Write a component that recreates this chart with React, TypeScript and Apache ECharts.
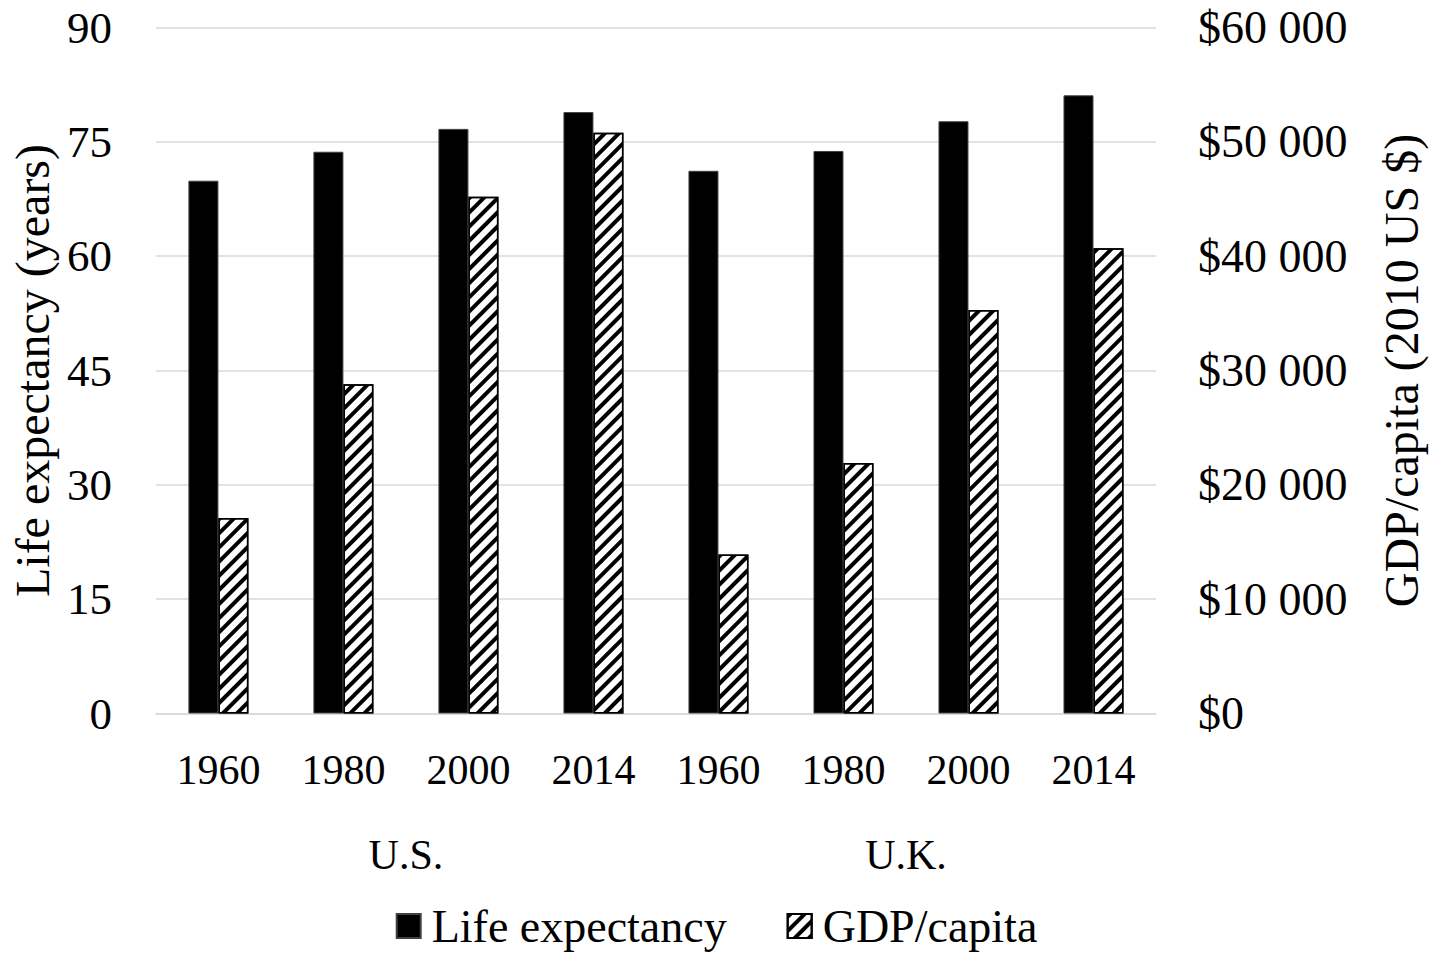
import React, { useEffect, useRef } from "react";
import * as echarts from "echarts";

const years = ["1960", "1980", "2000", "2014", "1960", "1980", "2000", "2014"];
const countries = ["U.S.", "U.K."];
const lifeExpectancy = [69.9, 73.7, 76.7, 78.9, 71.2, 73.8, 77.7, 81.1];
const gdpPerCapita = [17100, 28800, 45200, 50800, 13900, 21900, 35300, 40700];
const leftTicks = { min: 0, max: 90, interval: 15 };
const rightTicks = { min: 0, max: 60000, interval: 10000 };

const FONT = '"Liberation Serif", "Times New Roman", serif';

function fmtMoney(v: number): string {
  const s = String(Math.round(v));
  return "$" + s.replace(/\B(?=(\d{3})+(?!\d))/g, " ");
}

export default function App() {
  const ref = useRef<HTMLDivElement>(null);
  useEffect(() => {
    document.body.style.margin = "0";
    document.documentElement.style.overflow = "hidden";
    document.body.style.overflow = "hidden";
    if (!ref.current) return;
    const chart = echarts.init(ref.current, undefined, { renderer: "svg" });
    const gridColor = "#d9d9d9";
    const hatch = {
      symbol: "rect",
      symbolSize: 1,
      dashArrayX: [1, 0],
      dashArrayY: [4, 6],
      rotation: -Math.PI / 4,
      color: "#000",
    };
    chart.setOption({
      animation: false,
      backgroundColor: "#fff",
      textStyle: { fontFamily: FONT, color: "#000" },
      grid: { left: 147, right: 270, top: 27.5, bottom: 239.5, containLabel: false },
      legend: {
        top: 903,
        left: "center",
        icon: "rect",
        itemWidth: 24,
        itemHeight: 24,
        itemGap: 60,
        padding: 0,
        textStyle: {
          fontFamily: FONT,
          fontSize: 46,
          lineHeight: 46,
          color: "#000",
          padding: [0, 0, 0, 6],
        },
        data: ["Life expectancy", "GDP/capita"],
      },
      xAxis: [
        {
          type: "category",
          data: years,
          axisLine: { show: true, lineStyle: { color: gridColor, width: 1.5 } },
          axisTick: { show: false },
          axisLabel: { fontFamily: FONT, fontSize: 42, color: "#000", margin: 35, interval: 0 },
        },
        {
          type: "category",
          data: countries,
          position: "bottom",
          axisLine: { show: false },
          axisTick: { show: false },
          splitLine: { show: false },
          axisLabel: { fontFamily: FONT, fontSize: 42, color: "#000", margin: 120, interval: 0 },
        },
      ],
      yAxis: [
        {
          type: "value",
          min: leftTicks.min,
          max: leftTicks.max,
          interval: leftTicks.interval,
          name: "Life expectancy (years)",
          nameLocation: "middle",
          nameRotate: 90,
          nameGap: 84,
          nameTextStyle: { fontFamily: FONT, fontSize: 48, color: "#000" },
          axisLine: { show: false },
          axisTick: { show: false },
          axisLabel: { fontFamily: FONT, fontSize: 45, color: "#000", margin: 44 },
          splitLine: { show: true, lineStyle: { color: gridColor, width: 1.5 } },
        },
        {
          type: "value",
          position: "right",
          min: rightTicks.min,
          max: rightTicks.max,
          interval: rightTicks.interval,
          name: "GDP/capita (2010 US $)",
          nameLocation: "middle",
          nameRotate: 90,
          nameGap: 221,
          nameTextStyle: { fontFamily: FONT, fontSize: 48, color: "#000" },
          axisLine: { show: false },
          axisTick: { show: false },
          axisLabel: { fontFamily: FONT, fontSize: 46, color: "#000", margin: 42, formatter: fmtMoney },
          splitLine: { show: false },
        },
      ],
      series: [
        {
          name: "Life expectancy",
          type: "bar",
          xAxisIndex: 0,
          yAxisIndex: 0,
          data: lifeExpectancy,
          barWidth: 30,
          barGap: "0%",
          itemStyle: { color: "#000", borderColor: "#404040", borderWidth: 1 },
        },
        {
          name: "GDP/capita",
          type: "bar",
          xAxisIndex: 0,
          yAxisIndex: 1,
          data: gdpPerCapita,
          barWidth: 30,
          barGap: "0%",
          itemStyle: {
            color: "#fff",
            borderColor: "#000",
            borderWidth: 1.5,
            decal: hatch,
          },
        },
      ],
    });
    return () => chart.dispose();
  }, []);
  return (
    <div
      ref={ref}
      style={{ position: "fixed", left: 0, top: 0, width: 1433, height: 953, background: "#fff" }}
    />
  );
}
